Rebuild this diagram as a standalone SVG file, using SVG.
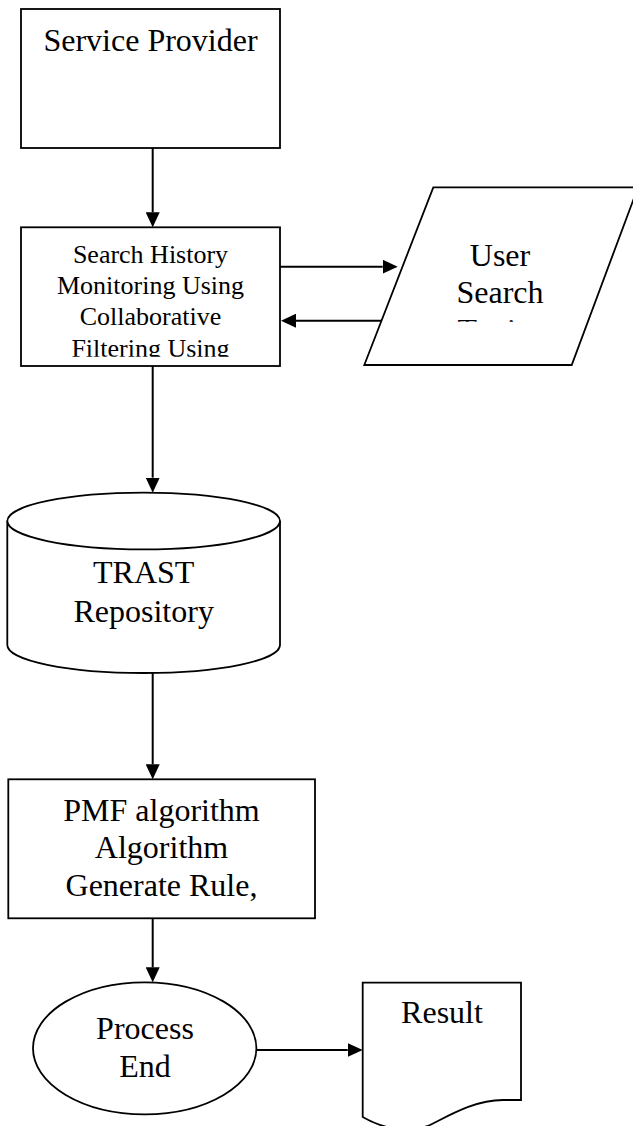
<svg xmlns="http://www.w3.org/2000/svg" width="633" height="1126" viewBox="0 0 633 1126">
<style>
.shape{fill:#fff;stroke:#000;stroke-width:1.8}
.conn{fill:none;stroke:#000;stroke-width:2}
text{font-family:"Liberation Serif","Times New Roman",serif;fill:#000;text-anchor:middle}
.t32{font-size:32px}
.t26{font-size:26px}
</style>
<defs>
<marker id="arr" viewBox="0 0 15 14" refX="0" refY="7" markerWidth="15" markerHeight="14" markerUnits="userSpaceOnUse" orient="auto">
<path d="M0,0 L15,7 L0,14 Z" fill="#000"/>
</marker>
<clipPath id="clipSearch"><rect x="21" y="227" width="259" height="129.7"/></clipPath>
<clipPath id="clipUser"><rect x="360" y="187" width="280" height="134.7"/></clipPath>
</defs>
<g id="service-provider">
<rect class="shape" x="21" y="9" width="259" height="139"/>
<text class="t32" x="150.5" y="50.7">Service Provider</text>
</g>
<g id="search-history">
<rect class="shape" x="21" y="227.3" width="259" height="138.7"/>
<g clip-path="url(#clipSearch)">
<text class="t26" x="150.5" y="262.7">Search History</text>
<text class="t26" x="150.5" y="294">Monitoring Using</text>
<text class="t26" x="150.5" y="325.3">Collaborative</text>
<text class="t26" x="150.5" y="356.6">Filtering Using</text>
</g>
</g>
<g id="user-search">
<path class="shape" d="M433.3,187.3 L638,187.3 L571.7,365 L364.3,365 Z"/>
<g clip-path="url(#clipUser)">
<text class="t32" x="500" y="266">User</text>
<text class="t32" x="500" y="303.3">Search</text>
<text class="t32" x="500" y="340.6">Topics</text>
</g>
</g>
<g id="trast-repository">
<path class="shape" d="M7.3,521 L7.3,645 A136.35,28 0 0 0 280,645 L280,521"/>
<ellipse class="shape" cx="143.65" cy="521" rx="136.35" ry="28.3"/>
<text class="t32" x="143.7" y="583.3">TRAST</text>
<text class="t32" x="143.7" y="621.7">Repository</text>
</g>
<g id="pmf-algorithm">
<rect class="shape" x="8.3" y="779.3" width="306.7" height="139"/>
<text class="t32" x="161.5" y="821">PMF algorithm</text>
<text class="t32" x="161.5" y="858.3">Algorithm</text>
<text class="t32" x="161.5" y="896">Generate Rule,</text>
</g>
<g id="process-end">
<ellipse class="shape" cx="144.7" cy="1048.3" rx="111.7" ry="66"/>
<text class="t32" x="145" y="1039.3">Process</text>
<text class="t32" x="145" y="1077.3">End</text>
</g>
<g id="result">
<path class="shape" d="M362.7,982.7 H521 V1100 H503 C475,1100 450,1115 430,1125 C410,1133 385,1130 362.7,1117 Z"/>
<text class="t32" x="442" y="1023.3">Result</text>
</g>
<g id="connectors">
<path class="conn" d="M152.7,148 V212.3" marker-end="url(#arr)"/>
<path class="conn" d="M280,266.7 H382.7" marker-end="url(#arr)"/>
<path class="conn" d="M381.7,320.7 H296" marker-end="url(#arr)"/>
<path class="conn" d="M152.7,366 V477.7" marker-end="url(#arr)"/>
<path class="conn" d="M152.7,673 V764.3" marker-end="url(#arr)"/>
<path class="conn" d="M152.7,918.3 V967.3" marker-end="url(#arr)"/>
<path class="conn" d="M256.4,1050 H347.7" marker-end="url(#arr)"/>
</g>
</svg>
